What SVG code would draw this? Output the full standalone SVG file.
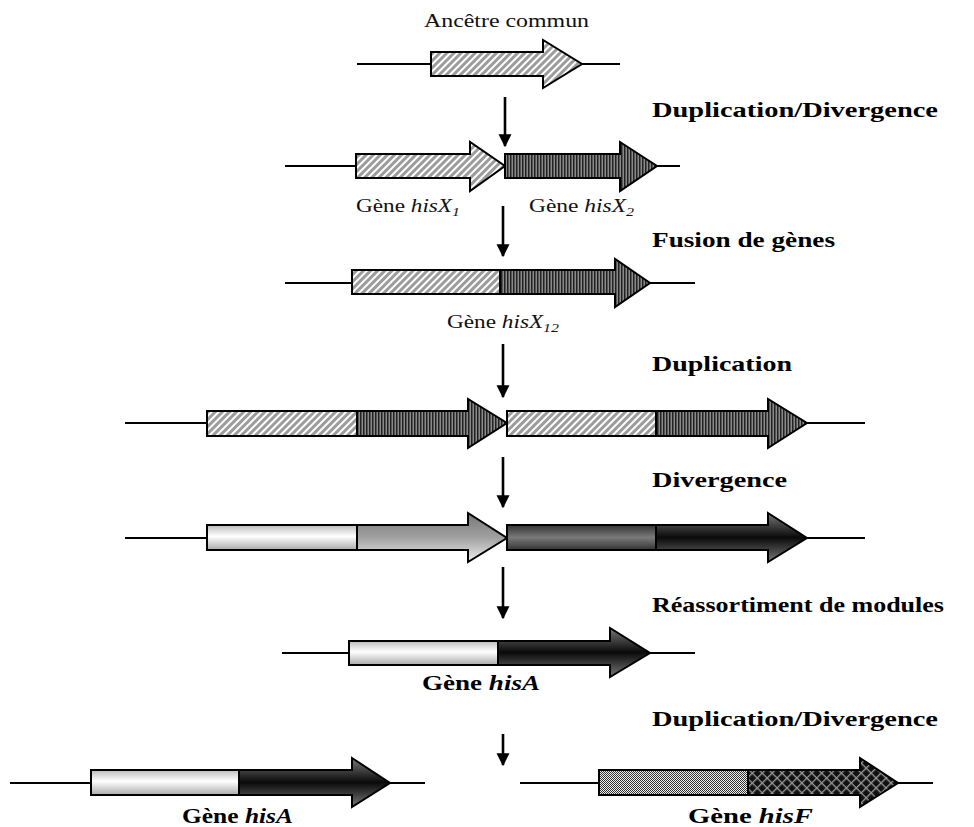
<svg xmlns="http://www.w3.org/2000/svg" width="974" height="827" viewBox="0 0 974 827">
<style>
.ln{stroke:#000;stroke-width:2.2;fill:none}
.ol{stroke:#000;stroke-width:2}
.va{stroke:#000;stroke-width:2.6;fill:none}
.t{font-family:"Liberation Serif","Times New Roman",serif;fill:#000}
.ttl{font-size:22px;font-weight:bold}
.lbl{font-size:19px;fill:#111}
.blbl{font-size:20px;font-weight:bold}
</style>
<defs>
<pattern id="diag" width="5" height="5" patternUnits="userSpaceOnUse" patternTransform="rotate(45)">
<rect width="5" height="5" fill="#9c9c9c"/>
<rect x="0" width="2" height="5" fill="#fff"/>
</pattern>
<pattern id="vert" width="3" height="6" patternUnits="userSpaceOnUse">
<rect width="3" height="6" fill="#8a8a8a"/>
<rect x="0" width="1.5" height="6" fill="#222"/>
</pattern>
<pattern id="dots" width="2" height="2" patternUnits="userSpaceOnUse">
<rect width="2" height="2" fill="#eee"/>
<rect width="1" height="1" fill="#333"/>
<rect x="1" y="1" width="1" height="1" fill="#333"/>
</pattern>
<pattern id="cross" width="7" height="7" patternUnits="userSpaceOnUse" patternTransform="rotate(45)">
<rect width="7" height="7" fill="#111"/>
<rect x="0" width="1.3" height="7" fill="#999"/>
<rect y="0" width="7" height="1.3" fill="#999"/>
</pattern>
<linearGradient id="gLight" x1="0" y1="0" x2="0" y2="1">
<stop offset="0" stop-color="#bbb"/><stop offset="0.45" stop-color="#fff"/><stop offset="1" stop-color="#aaa"/>
</linearGradient>
<linearGradient id="gMid" x1="0" y1="0" x2="0" y2="1">
<stop offset="0" stop-color="#777"/><stop offset="0.5" stop-color="#a0a0a0"/><stop offset="1" stop-color="#eee"/>
</linearGradient>
<linearGradient id="gDark" x1="0" y1="0" x2="0" y2="1">
<stop offset="0" stop-color="#333"/><stop offset="0.5" stop-color="#7a7a7a"/><stop offset="1" stop-color="#333"/>
</linearGradient>
<linearGradient id="gBlack" x1="0" y1="0" x2="0" y2="1">
<stop offset="0" stop-color="#777"/><stop offset="0.5" stop-color="#0a0a0a"/><stop offset="1" stop-color="#777"/>
</linearGradient>
<marker id="ah" viewBox="0 0 10 10" refX="9" refY="5" markerWidth="5" markerHeight="5.4" orient="auto" markerUnits="strokeWidth">
<path d="M0,0 L10,5 L0,10 Z" fill="#000"/>
</marker>
</defs>

<g id="connectors">
<line class="va" x1="505" y1="97" x2="505" y2="146" marker-end="url(#ah)"/>
<line class="va" x1="503" y1="206" x2="503" y2="256" marker-end="url(#ah)"/>
<line class="va" x1="503" y1="344" x2="503" y2="397" marker-end="url(#ah)"/>
<line class="va" x1="503" y1="457" x2="503" y2="507" marker-end="url(#ah)"/>
<line class="va" x1="503" y1="567" x2="503" y2="618" marker-end="url(#ah)"/>
<line class="va" x1="503" y1="734" x2="503" y2="765" marker-end="url(#ah)"/>
</g>

<g id="labels">
<text class="t ttl" x="652" y="117" textLength="286" lengthAdjust="spacingAndGlyphs">Duplication/Divergence</text>
<text class="t ttl" x="652" y="247" textLength="183" lengthAdjust="spacingAndGlyphs">Fusion de gènes</text>
<text class="t ttl" x="652" y="371" textLength="140" lengthAdjust="spacingAndGlyphs">Duplication</text>
<text class="t ttl" x="652" y="487" textLength="135" lengthAdjust="spacingAndGlyphs">Divergence</text>
<text class="t ttl" x="652" y="612" textLength="292" lengthAdjust="spacingAndGlyphs">Réassortiment de modules</text>
<text class="t ttl" x="652" y="726" textLength="286" lengthAdjust="spacingAndGlyphs">Duplication/Divergence</text>
</g>

<g id="ancestor">
<text class="t lbl" x="424" y="27" textLength="165" lengthAdjust="spacingAndGlyphs">Ancêtre commun</text>
<line class="ln" x1="357" y1="64" x2="620" y2="64"/>
<path class="ol" fill="url(#diag)" d="M431,52 H543 V40 L582,64 L543,88 V76 H431 Z"/>
</g>

<g id="hisX1-hisX2">
<line class="ln" x1="285" y1="166" x2="680" y2="166"/>
<path class="ol" fill="url(#diag)" d="M356,154 H470 V142 L505,166 L470,191 V178 H356 Z"/>
<path class="ol" fill="url(#vert)" d="M505,154 H620 V142 L657,166 L620,191 V178 H505 Z"/>
<text class="t lbl" x="356" y="212" textLength="104" lengthAdjust="spacingAndGlyphs">Gène <tspan font-style="italic">hisX</tspan><tspan font-style="italic" font-size="13" dy="4">1</tspan></text>
<text class="t lbl" x="529" y="212" textLength="105" lengthAdjust="spacingAndGlyphs">Gène <tspan font-style="italic">hisX</tspan><tspan font-style="italic" font-size="13" dy="4">2</tspan></text>
</g>

<g id="hisX12">
<line class="ln" x1="285" y1="283" x2="695" y2="283"/>
<rect class="ol" fill="url(#diag)" x="352" y="270" width="148" height="24"/>
<path class="ol" fill="url(#vert)" d="M500,270 H615 V259 L650,283 L615,307 V294 H500 Z"/>
<text class="t lbl" x="447" y="328" textLength="112" lengthAdjust="spacingAndGlyphs">Gène <tspan font-style="italic">hisX</tspan><tspan font-style="italic" font-size="13" dy="4">12</tspan></text>
</g>

<g id="duplicated">
<line class="ln" x1="125" y1="423" x2="207" y2="423"/>
<line class="ln" x1="807" y1="423" x2="865" y2="423"/>
<rect class="ol" fill="url(#diag)" x="207" y="411" width="150" height="25"/>
<path class="ol" fill="url(#vert)" d="M357,411 H468 V399 L507,423 L468,448 V436 H357 Z"/>
<rect class="ol" fill="url(#diag)" x="507" y="411" width="149" height="25"/>
<path class="ol" fill="url(#vert)" d="M656,411 H768 V399 L807,423 L768,448 V436 H656 Z"/>
</g>

<g id="diverged">
<line class="ln" x1="125" y1="538" x2="207" y2="538"/>
<line class="ln" x1="807" y1="538" x2="865" y2="538"/>
<rect class="ol" fill="url(#gLight)" x="207" y="525" width="150" height="25"/>
<path class="ol" fill="url(#gMid)" d="M357,525 H468 V513 L507,538 L468,562 V550 H357 Z"/>
<rect class="ol" fill="url(#gDark)" x="507" y="525" width="149" height="25"/>
<path class="ol" fill="url(#gBlack)" d="M656,525 H768 V513 L807,538 L768,562 V550 H656 Z"/>
</g>

<g id="hisA">
<line class="ln" x1="282" y1="653" x2="695" y2="653"/>
<rect class="ol" fill="url(#gLight)" x="349" y="641" width="149" height="24"/>
<path class="ol" fill="url(#gBlack)" d="M498,641 H610 V628 L650,653 L610,677 V665 H498 Z"/>
<text class="t blbl" x="422" y="690" textLength="118" lengthAdjust="spacingAndGlyphs">Gène <tspan font-style="italic">hisA</tspan></text>
</g>

<g id="hisA-final">
<line class="ln" x1="10" y1="783" x2="425" y2="783"/>
<rect class="ol" fill="url(#gLight)" x="91" y="770" width="148" height="25"/>
<path class="ol" fill="url(#gBlack)" d="M239,770 H352 V758 L390,783 L352,807 V795 H239 Z"/>
<text class="t blbl" x="182" y="823" textLength="111" lengthAdjust="spacingAndGlyphs">Gène <tspan font-style="italic">hisA</tspan></text>
</g>

<g id="hisF">
<line class="ln" x1="520" y1="783" x2="933" y2="783"/>
<rect class="ol" fill="url(#dots)" x="599" y="770" width="149" height="25"/>
<path class="ol" fill="url(#cross)" d="M748,770 H860 V758 L898,783 L860,807 V795 H748 Z"/>
<text class="t blbl" x="688" y="823" textLength="125" lengthAdjust="spacingAndGlyphs">Gène <tspan font-style="italic">hisF</tspan></text>
</g>
</svg>
